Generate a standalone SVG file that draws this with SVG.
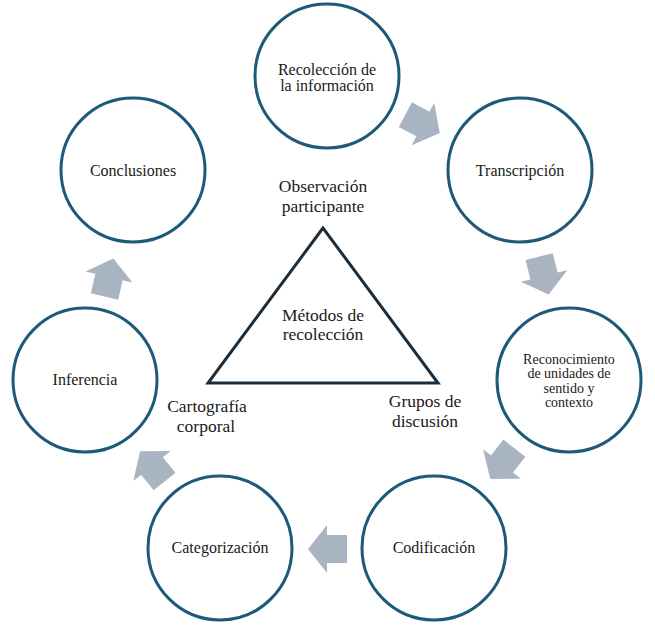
<svg xmlns="http://www.w3.org/2000/svg" width="655" height="628" viewBox="0 0 655 628">
<style>
.c{fill:#fff;stroke:#1d5a79;stroke-width:3}
text{font-family:'Liberation Serif','Times New Roman',serif;font-size:16px;fill:#1a1a1a;text-anchor:middle}
text.s{font-size:14px}
text.b{font-size:17.5px}
.a{fill:#a9b4c2}
</style>
<defs>
<polygon id="arr" points="-20,-14 0,-14 0,-24 19,0 0,24 0,14 -20,14"/>
</defs>
<rect width="655" height="628" fill="#fff"/>
<g id="connectors">
<use href="#arr" class="a" transform="translate(423,124) rotate(28)"/>
<use href="#arr" class="a" transform="translate(544,276) rotate(76)"/>
<use href="#arr" class="a" transform="translate(502,464) rotate(128)"/>
<use href="#arr" class="a" transform="translate(327,549) rotate(180)"/>
<use href="#arr" class="a" transform="translate(152,466) rotate(231)"/>
<use href="#arr" class="a" transform="translate(109,277) rotate(-77)"/>
</g>
<g id="recoleccion">
<circle class="c" cx="327" cy="76" r="72"/>
<text x="327" y="75">Recolección de</text>
<text x="327" y="91">la información</text>
</g>
<g id="transcripcion">
<circle class="c" cx="520" cy="170" r="72"/>
<text x="520" y="176">Transcripción</text>
</g>
<g id="reconocimiento">
<circle class="c" cx="569" cy="380" r="72"/>
<text class="s" x="569" y="364">Reconocimiento</text>
<text class="s" x="569" y="378">de unidades de</text>
<text class="s" x="569" y="393">sentido y</text>
<text class="s" x="569" y="407">contexto</text>
</g>
<g id="codificacion">
<circle class="c" cx="434" cy="548" r="72"/>
<text x="434" y="553">Codificación</text>
</g>
<g id="categorizacion">
<circle class="c" cx="220" cy="548" r="72"/>
<text x="220" y="553">Categorización</text>
</g>
<g id="inferencia">
<circle class="c" cx="85" cy="380" r="72"/>
<text x="85" y="385">Inferencia</text>
</g>
<g id="conclusiones">
<circle class="c" cx="133" cy="170" r="72"/>
<text x="133" y="176">Conclusiones</text>
</g>
<g id="metodos">
<polygon points="323,228 208,383 438,383" fill="none" stroke="#1b2d3b" stroke-width="3"/>
<text class="b" x="323" y="321">Métodos de</text>
<text class="b" x="323" y="340">recolección</text>
</g>
<g id="observacion">
<text class="b" x="323" y="192">Observación</text>
<text class="b" x="323" y="212">participante</text>
</g>
<g id="cartografia">
<text class="b" x="207" y="412">Cartografía</text>
<text class="b" x="206" y="432">corporal</text>
</g>
<g id="grupos">
<text class="b" x="425" y="407">Grupos de</text>
<text class="b" x="425" y="427">discusión</text>
</g>
</svg>
